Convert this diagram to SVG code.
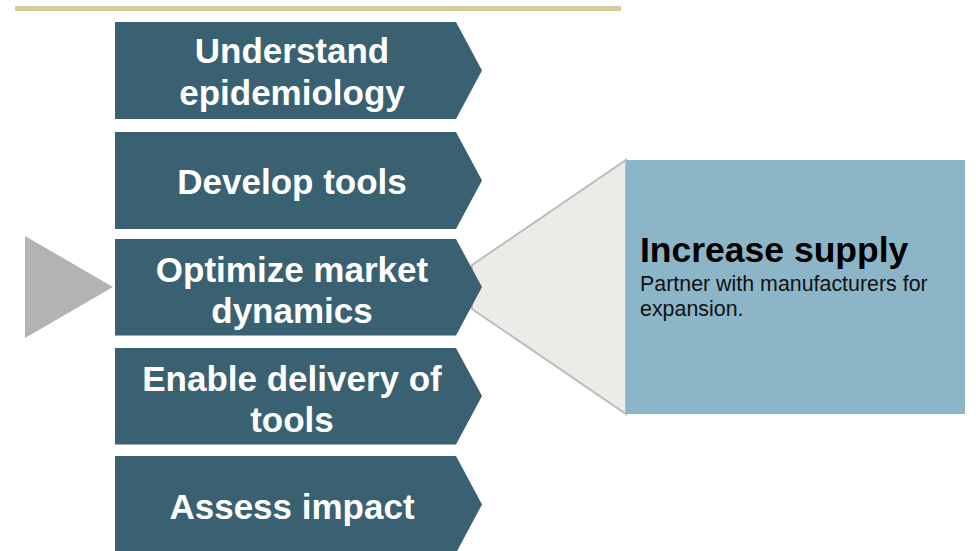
<svg xmlns="http://www.w3.org/2000/svg" width="976" height="551" viewBox="0 0 976 551">
<style>
.chev{fill:#3a6171;}
.ct{font-family:"Liberation Sans",Arial,sans-serif;font-weight:bold;font-size:35px;fill:#ffffff;text-anchor:middle;}
.ht{font-family:"Liberation Sans",Arial,sans-serif;font-weight:bold;font-size:35.5px;fill:#000000;}
.bt{font-family:"Liberation Sans",Arial,sans-serif;font-size:21.4px;fill:#111111;}
</style>
<rect x="15" y="6" width="606" height="5" fill="#d6cb9a"/>
<g id="pointer"><polygon points="25,236 113,287 25,338" fill="#b3b3b3"/></g>
<g id="callout">
<polygon points="472,265 626,160 626,414 472,309" fill="#ecebe8" stroke="#bdbdbd" stroke-width="2"/>
<rect x="626" y="160" width="339" height="254" fill="#8cb6c8"/>
<text class="ht" x="640" y="262">Increase supply</text>
<text class="bt" x="640" y="291">Partner with manufacturers for</text>
<text class="bt" x="640" y="316">expansion.</text>
</g>
<g id="step1">
<polygon class="chev" points="115,22 456,22 482,70.5 456,119 115,119"/>
<text class="ct" x="292" y="63">Understand</text>
<text class="ct" x="292" y="105">epidemiology</text>
</g>
<g id="step2">
<polygon class="chev" points="115,132 456,132 482,180.5 456,229 115,229"/>
<text class="ct" x="292" y="194">Develop tools</text>
</g>
<g id="step3">
<polygon class="chev" points="115,239 456,239 482,287 456,335.5 115,335.5"/>
<text class="ct" x="292" y="282">Optimize market</text>
<text class="ct" x="292" y="323">dynamics</text>
</g>
<g id="step4">
<polygon class="chev" points="115,348 456,348 482,396 456,444.5 115,444.5"/>
<text class="ct" x="292" y="391">Enable delivery of</text>
<text class="ct" x="292" y="432">tools</text>
</g>
<g id="step5">
<polygon class="chev" points="115,456 456,456 482,504.5 456,553 115,553"/>
<text class="ct" x="292" y="519">Assess impact</text>
</g>
<g id="connectors"></g>
</svg>
